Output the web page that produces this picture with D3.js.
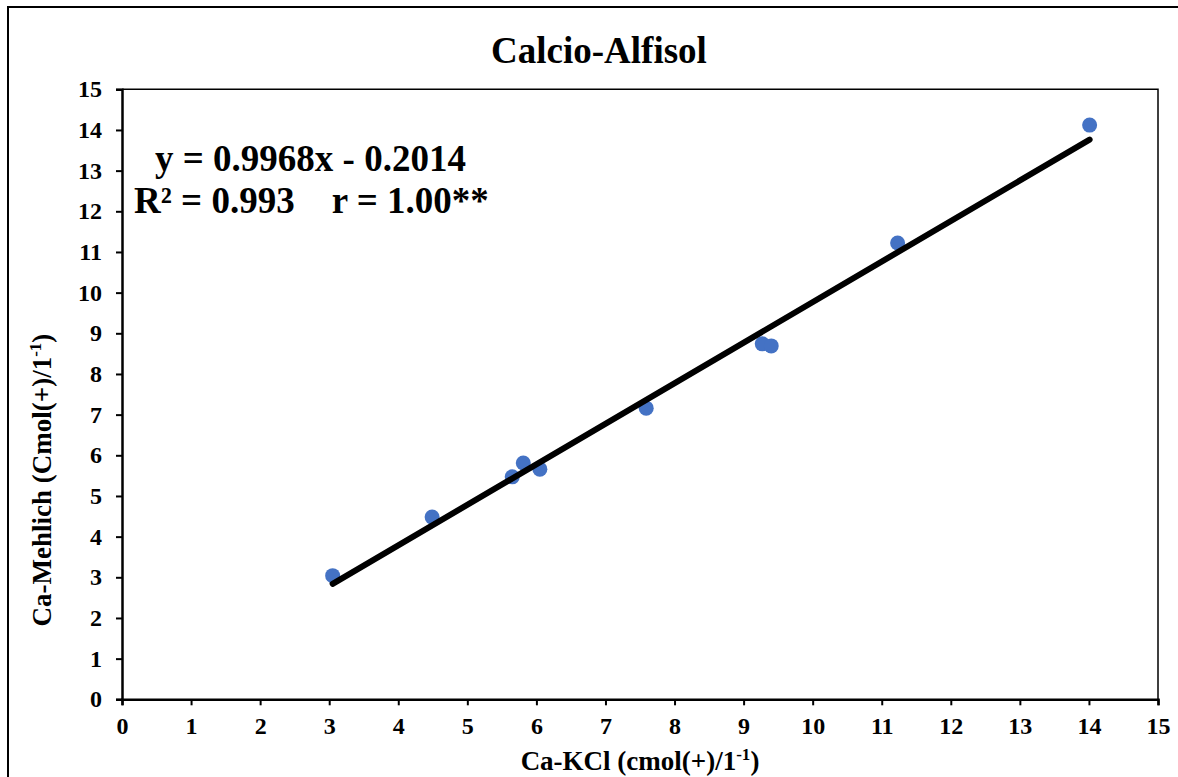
<!DOCTYPE html>
<html><head><meta charset="utf-8">
<script src="https://cdn.jsdelivr.net/npm/d3@7"></script>
<style>body{margin:0;background:#fff}svg{display:block}text{font-family:"Liberation Serif","Times New Roman",serif;font-weight:bold}</style>
</head><body>
<script>
const xVals = [3.05, 4.49, 5.65, 5.81, 6.05, 7.59, 9.27, 9.40, 11.23, 14.01];
const yVals = [3.04, 4.48, 5.47, 5.81, 5.66, 7.16, 8.74, 8.69, 11.22, 14.12];
const slope = 0.9968, intercept = -0.2014;
const ticks = d3.range(0, 16);
const title = "Calcio-Alfisol";
const eq1 = "y = 0.9968x - 0.2014";
const eq2 = "R² = 0.993    r = 1.00**";

const W = 1178, H = 777;
const svg = d3.select("body").append("svg").attr("width", W).attr("height", H);
svg.append("rect").attr("x", 8).attr("y", 7).attr("width", 1200).attr("height", 800)
  .attr("fill", "none").attr("stroke", "#000").attr("stroke-width", 2);

const x = d3.scaleLinear().domain([0, 15]).range([122, 1158]);
const y = d3.scaleLinear().domain([0, 15]).range([699.3, 89.3]);

svg.append("path").attr("d", `M${x(0)},${y(15)}H${x(15)}V${y(0)}`).attr("fill","none").attr("stroke","#000").attr("stroke-width",1.5);

const xa = svg.append("g").attr("transform", `translate(0,${y(0)})`)
  .call(d3.axisBottom(x).tickValues(ticks).tickSize(6).tickPadding(12).tickFormat(d3.format("d")));
const ya = svg.append("g").attr("transform", `translate(${x(0)},0)`)
  .call(d3.axisLeft(y).tickValues(ticks).tickSize(6).tickPadding(14).tickFormat(d3.format("d")));
[xa, ya].forEach(a => {
  a.selectAll("path").attr("stroke-width", 2.5);
  a.selectAll("line").attr("stroke-width", 2);
  a.selectAll("text").style("font-size", "24px").attr("fill", "#000");
});

svg.selectAll("circle.pt").data(xVals).join("circle").attr("class","pt")
  .attr("cx", (d) => x(d)).attr("cy", (d, i) => y(yVals[i])).attr("r", 7.5).attr("fill", "#4472C4");

const x0 = d3.min(xVals), x1 = d3.max(xVals);
svg.append("line").attr("x1", x(x0)).attr("y1", y(slope*x0+intercept))
  .attr("x2", x(x1)).attr("y2", y(slope*x1+intercept))
  .attr("stroke", "#000").attr("stroke-width", 6).attr("stroke-linecap", "round");

svg.append("text").attr("x", 599).attr("y", 63).attr("text-anchor", "middle").style("font-size", "37px").text(title);
svg.append("text").attr("x", 155).attr("y", 171).style("font-size", "37px").text(eq1);
svg.append("text").attr("x", 134).attr("y", 213).style("font-size", "37px").style("white-space","pre").text(eq2);

const xt = svg.append("text").attr("x", 640).attr("y", 770).attr("text-anchor", "middle").style("font-size", "27px");
xt.append("tspan").text("Ca-KCl (cmol(+)/1");
xt.append("tspan").text("-1").style("font-size", "17px").attr("dy", -10);
xt.append("tspan").text(")").attr("dy", 10);

const yt = svg.append("text").attr("transform", "translate(51,480) rotate(-90)").attr("text-anchor", "middle").style("font-size", "27px");
yt.append("tspan").text("Ca-Mehlich (Cmol(+)/1");
yt.append("tspan").text("-1").style("font-size", "17px").attr("dy", -10);
yt.append("tspan").text(")").attr("dy", 10);
</script>
</body></html>
